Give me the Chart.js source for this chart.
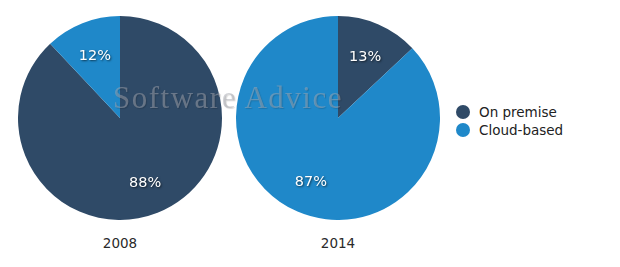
<!DOCTYPE html>
<html>
<head>
<meta charset="utf-8">
<script src="https://cdn.jsdelivr.net/npm/chart.js@4"></script>
<style>
  body { margin: 0; background: #fff; }
  #wrap { position: relative; width: 620px; height: 267px; overflow: hidden; font-family: "DejaVu Sans", Verdana, sans-serif; }
  .pie { position: absolute; top: 16px; }
  .year { position: absolute; top: 235px; width: 80px; text-align: center; font-size: 13.5px; color: #2a2a2a; }
  .mark { position: absolute; left: 113px; top: 80px; font-family: "Liberation Serif", "DejaVu Serif", serif; font-size: 31px; letter-spacing: 1.5px; color: rgba(165, 168, 175, 0.5); text-shadow: 1px 1px 1px rgba(0,0,0,0.15); pointer-events: none; }
  .legend { position: absolute; left: 456px; top: 103px; font-size: 13.5px; color: #222; }
  .legend div { height: 18px; line-height: 18px; white-space: nowrap; }
  .legend span { display: inline-block; width: 14px; height: 14px; border-radius: 50%; vertical-align: -2px; margin-right: 9px; }
</style>
</head>
<body>
<div id="wrap">
  <canvas id="pie2008" class="pie" width="204" height="204" style="left:18px"></canvas>
  <canvas id="pie2014" class="pie" width="204" height="204" style="left:236px"></canvas>
  <div class="year" style="left:80px">2008</div>
  <div class="year" style="left:298px">2014</div>
  <div class="mark">Software Advice</div>
  <div class="legend" id="legend"></div>
</div>
<script>
const categories = ["On premise", "Cloud-based"];
const years = ["2008", "2014"];
const share2008 = [88, 12];
const share2014 = [13, 87];
const colors = ["#2f4a67", "#1f88c9"];

// percentage labels inside each slice
const sliceLabels = {
  id: "sliceLabels",
  afterDatasetsDraw(chart) {
    const ctx = chart.ctx;
    const values = chart.data.datasets[0].data;
    chart.getDatasetMeta(0).data.forEach((arc, i) => {
      const mid = (arc.startAngle + arc.endAngle) / 2;
      const r = arc.outerRadius * 0.67;
      const x = arc.x + Math.cos(mid) * r;
      const y = arc.y + Math.sin(mid) * r + 2;
      ctx.save();
      ctx.font = "14.5px 'DejaVu Sans', Verdana, sans-serif";
      ctx.fillStyle = "#fff";
      ctx.textAlign = "center";
      ctx.textBaseline = "middle";
      ctx.shadowColor = "rgba(0,0,0,0.6)";
      ctx.shadowBlur = 2;
      ctx.shadowOffsetX = 1;
      ctx.shadowOffsetY = 1;
      ctx.fillText(values[i] + "%", x, y);
      ctx.restore();
    });
  },
};

function renderPie(id, values) {
  return new Chart(document.getElementById(id), {
    type: "pie",
    data: {
      labels: categories,
      datasets: [
        {
          data: values,
          backgroundColor: colors,
          borderWidth: 0,
        },
      ],
    },
    options: {
      responsive: false,
      animation: false,
      layout: { padding: 0 },
      plugins: {
        legend: { display: false },
        tooltip: { enabled: false },
      },
    },
    plugins: [sliceLabels],
  });
}

renderPie("pie2008", share2008);
renderPie("pie2014", share2014);

document.getElementById("legend").innerHTML = categories
  .map((c, i) => `<div><span style="background:${colors[i]}"></span>${c}</div>`)
  .join("");
</script>
</body>
</html>
